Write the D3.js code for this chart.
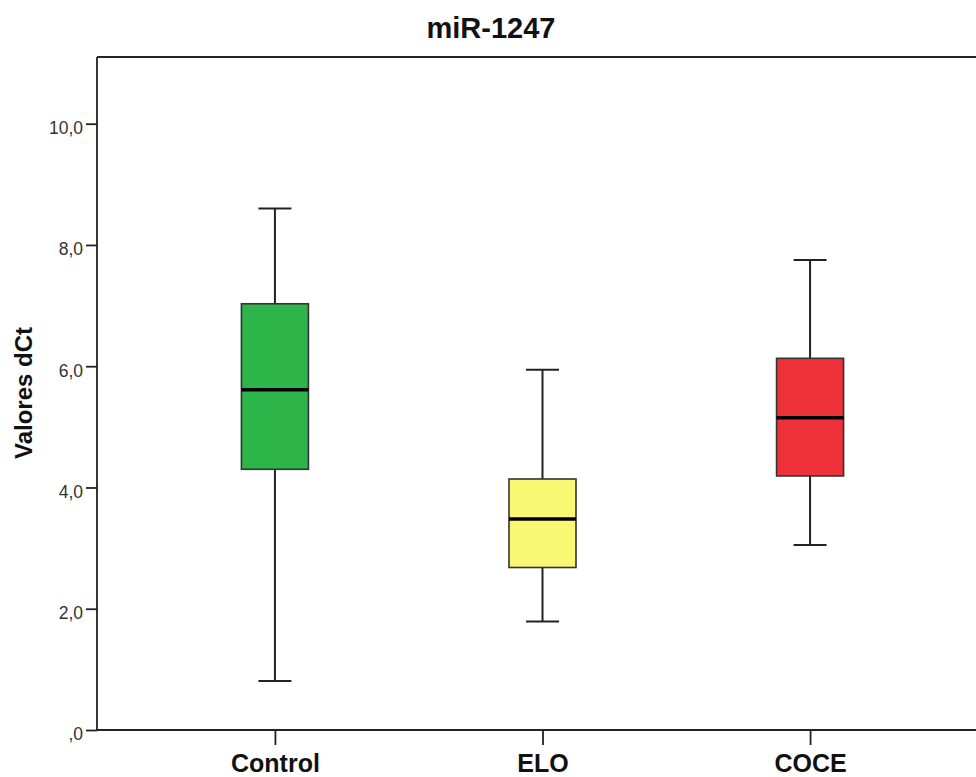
<!DOCTYPE html>
<html>
<head>
<meta charset="utf-8">
<script src="https://cdn.jsdelivr.net/npm/d3@7"></script>
<style>
  body { margin: 0; background: #fff; overflow: hidden; }
  svg { display: block; font-family: "Liberation Sans", Arial, sans-serif; }
</style>
</head>
<body>
<div id="chart"></div>
<script>
// Data
const groups = ["Control", "ELO", "COCE"];
const whiskerLow = [0.81, 1.79, 3.05];
const q1 = [4.30, 2.68, 4.19];
const medians = [5.61, 3.48, 5.15];
const q3 = [7.03, 4.14, 6.13];
const whiskerHigh = [8.60, 5.94, 7.75];
const boxColors = ["#2eb54a", "#faf775", "#ef323a"];
const yTicks = [0, 2, 4, 6, 8, 10];

const width = 976;
const height = 777;
const margin = {top: 57, right: 0, bottom: 47, left: 97};

const svg = d3.select("#chart").append("svg")
    .attr("width", width)
    .attr("height", height);

const y = d3.scaleLinear()
    .domain([0, 11.1])
    .range([height - margin.bottom, margin.top]);

const x = d3.scalePoint()
    .domain(groups)
    .range([margin.left, 988])
    .padding(0.665);

const boxW = 67;
const capW = 33;

const fmt = d => d3.format(".1f")(d).replace(".", ",").replace(/^0,/, ",");

// frame: top line
svg.append("line")
    .attr("x1", margin.left).attr("x2", width)
    .attr("y1", margin.top).attr("y2", margin.top)
    .attr("stroke", "#222").attr("stroke-width", 1.8);

// y axis
const yAxis = svg.append("g")
    .attr("transform", "translate(" + margin.left + ",0)")
    .call(d3.axisLeft(y).tickValues(yTicks).tickFormat(fmt)
        .tickSizeInner(11).tickSizeOuter(0).tickPadding(3));
yAxis.select(".domain").remove();
yAxis.append("line")
    .attr("x1", 0).attr("x2", 0)
    .attr("y1", margin.top).attr("y2", y(0))
    .attr("stroke", "#222").attr("stroke-width", 1.8);
yAxis.selectAll(".tick line").attr("stroke", "#222").attr("stroke-width", 1.8);
yAxis.selectAll(".tick text")
    .attr("font-size", 17.5)
    .attr("fill", "#333")
    .attr("dy", "0.57em")
    .attr("font-family", "Liberation Sans, Arial, sans-serif");

// x axis
const xAxis = svg.append("g")
    .attr("transform", "translate(0," + y(0) + ")")
    .call(d3.axisBottom(x).tickSizeInner(15).tickSizeOuter(0).tickPadding(5));
xAxis.select(".domain").remove();
xAxis.append("line")
    .attr("x1", margin.left).attr("x2", width)
    .attr("y1", 0).attr("y2", 0)
    .attr("stroke", "#222").attr("stroke-width", 1.8);
xAxis.selectAll(".tick line").attr("stroke", "#222").attr("stroke-width", 1.8);
xAxis.selectAll(".tick text")
    .attr("font-size", 25)
    .attr("font-weight", "bold")
    .attr("fill", "#111")
    .attr("y", 42)
    .attr("dy", 0)
    .attr("font-family", "Liberation Sans, Arial, sans-serif");

// boxes
const boxes = svg.selectAll(".box")
    .data(groups)
    .enter().append("g")
    .attr("class", "box");

boxes.append("line")
    .attr("x1", d => x(d)).attr("x2", d => x(d))
    .attr("y1", (d, i) => y(whiskerHigh[i]))
    .attr("y2", (d, i) => y(whiskerLow[i]))
    .attr("stroke", "#222").attr("stroke-width", 2);

boxes.append("line")
    .attr("x1", d => x(d) - capW / 2).attr("x2", d => x(d) + capW / 2)
    .attr("y1", (d, i) => y(whiskerHigh[i]))
    .attr("y2", (d, i) => y(whiskerHigh[i]))
    .attr("stroke", "#222").attr("stroke-width", 2);

boxes.append("line")
    .attr("x1", d => x(d) - capW / 2).attr("x2", d => x(d) + capW / 2)
    .attr("y1", (d, i) => y(whiskerLow[i]))
    .attr("y2", (d, i) => y(whiskerLow[i]))
    .attr("stroke", "#222").attr("stroke-width", 2);

boxes.append("rect")
    .attr("x", d => x(d) - boxW / 2)
    .attr("width", boxW)
    .attr("y", (d, i) => y(q3[i]))
    .attr("height", (d, i) => y(q1[i]) - y(q3[i]))
    .attr("fill", (d, i) => boxColors[i])
    .attr("stroke", "#333").attr("stroke-width", 1.6);

boxes.append("line")
    .attr("x1", d => x(d) - boxW / 2).attr("x2", d => x(d) + boxW / 2)
    .attr("y1", (d, i) => y(medians[i]))
    .attr("y2", (d, i) => y(medians[i]))
    .attr("stroke", "#000").attr("stroke-width", 3.5);

// title
svg.append("text")
    .attr("x", 491)
    .attr("y", 38)
    .attr("text-anchor", "middle")
    .attr("font-size", 29)
    .attr("font-weight", "bold")
    .attr("fill", "#111")
    .text("miR-1247");

// y label
svg.append("text")
    .attr("transform", "translate(32,393) rotate(-90)")
    .attr("text-anchor", "middle")
    .attr("font-size", 24)
    .attr("font-weight", "bold")
    .attr("fill", "#111")
    .text("Valores dCt");
</script>
</body>
</html>
